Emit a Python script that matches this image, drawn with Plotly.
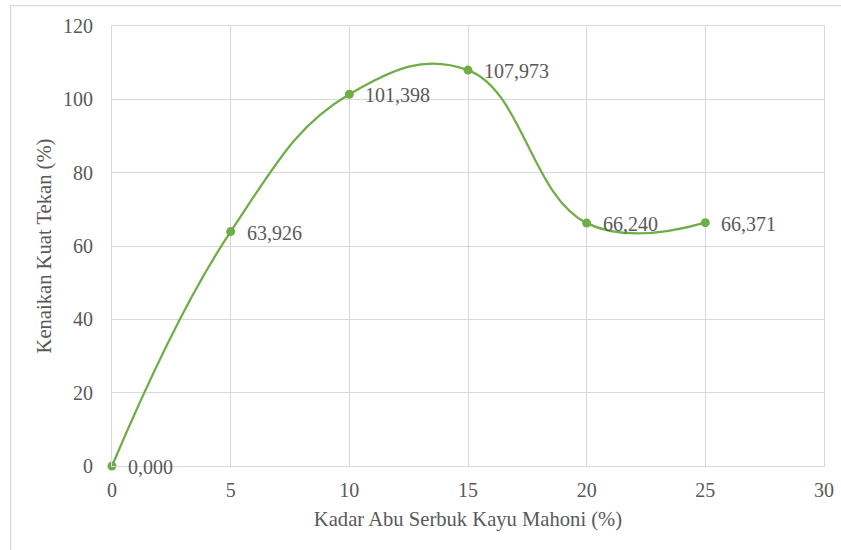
import plotly.graph_objects as go

# Data: ash content (%) vs. increase in compressive strength (%)
kadar_abu = [0, 5, 10, 15, 20, 25]
kenaikan = [0.000, 63.926, 101.398, 107.973, 66.240, 66.371]
label_teks = ["0,000", "63,926", "101,398", "107,973", "66,240", "66,371"]

x_ticks = [0, 5, 10, 15, 20, 25, 30]
y_ticks = [0, 20, 40, 60, 80, 100, 120]

W, H = 841, 550
ML, MR, MT, MB = 112, 17, 26, 84
PW, PH = W - ML - MR, H - MT - MB

GREEN = "#70AD47"
GRID = "#D9D9D9"
TEXT = "#595959"
FONT = "Liberation Serif"


def px_to_paper_x(px):
    return (px - ML) / PW


def px_to_paper_y(py):
    return (H - MB - py) / PH


def txt_font(size=20):
    return dict(family=FONT, size=size, color=TEXT)


fig = go.Figure()
fig.add_trace(go.Scatter(
    x=kadar_abu, y=kenaikan,
    mode="lines+markers",
    line=dict(color=GREEN, width=2.25, shape="spline", smoothing=1.2),
    marker=dict(color=GREEN, size=9),
    hoverinfo="skip",
    cliponaxis=False,
))

for xv, yv, t in zip(kadar_abu, kenaikan, label_teks):
    fig.add_annotation(
        x=xv, y=yv, text=t, showarrow=False,
        xanchor="left", yanchor="middle", xshift=14, yshift=-1,
        font=txt_font(),
    )

# Outer chart-area frame (extends past the right/bottom edges)
fig.add_shape(
    type="rect", xref="paper", yref="paper",
    x0=px_to_paper_x(10.5), x1=px_to_paper_x(W + 10),
    y0=px_to_paper_y(H + 10), y1=px_to_paper_y(5.5),
    line=dict(color=GRID, width=1.25), layer="below",
)

fig.update_layout(
    width=W, height=H,
    margin=dict(l=ML, r=MR, t=MT, b=MB, autoexpand=False),
    paper_bgcolor="white", plot_bgcolor="white",
    showlegend=False,
    xaxis=dict(
        range=[0, 30], tickvals=x_ticks, ticks="", automargin=False,
        tickfont=txt_font(),
        showgrid=True, gridcolor=GRID, gridwidth=1.25,
        showline=True, linecolor=GRID, linewidth=1.25, mirror=True,
        zeroline=False, ticklabelstandoff=6,
        title=dict(text="Kadar Abu Serbuk Kayu Mahoni (%)", standoff=11,
                   font=txt_font(20.6)),
    ),
    yaxis=dict(
        range=[0, 120], tickvals=y_ticks, ticks="", automargin=False,
        tickfont=txt_font(),
        showgrid=True, gridcolor=GRID, gridwidth=1.25,
        showline=True, linecolor=GRID, linewidth=1.25, mirror=True,
        zeroline=False, ticklabelstandoff=14,
        title=dict(text="Kenaikan Kuat Tekan (%)", standoff=5,
                   font=txt_font(20.6)),
    ),
)

fig.write_html("out.html")
